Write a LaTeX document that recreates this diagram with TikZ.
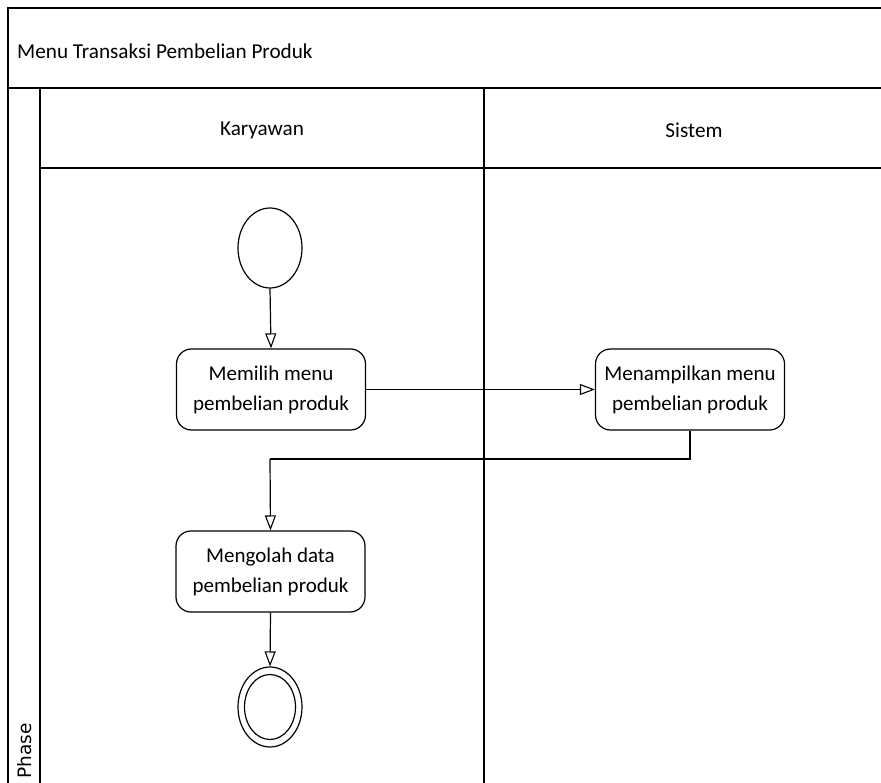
\documentclass[tikz,border=0pt]{standalone}
\usepackage{fontspec}
\setmainfont{Carlito}
\newfontfamily\phasefont{DejaVu Sans}
\usetikzlibrary{shapes.geometric,arrows.meta}

\begin{document}
\begin{tikzpicture}[x=1pt,y=-1pt,
  frame/.style={line width=1.5pt},
  lane/.style={line width=1.2pt},
  label/.style={font=\fontsize{21.2}{30}\selectfont, inner sep=0pt},
  action/.style={draw, line width=1.2pt, rounded corners=15pt,
    minimum width=189pt, minimum height=81pt, align=center,
    font=\fontsize{21}{30}\selectfont, inner sep=0pt},
  initial/.style={draw, line width=1.2pt, ellipse,
    minimum width=64pt, minimum height=80pt, inner sep=0pt},
  flow/.style={line width=1.2pt,
    -{Triangle[open, length=15pt, width=11pt, line width=1.1pt]}},
  line/.style={line width=1.2pt}]

\useasboundingbox (0,0) rectangle (881,783);
\fill[white] (0,0) rectangle (881,783);

% pool frame, title band and swimlanes
\draw[frame] (881,8) -- (8,8) -- (8,783);
\draw[frame] (8,88) -- (881,88);
\draw[lane] (40,88) -- (40,783);
\draw[lane] (40,168) -- (881,168);
\draw[lane] (484,88) -- (484,783);

\node[label, anchor=west] (title) at (17,51) {Menu Transaksi Pembelian Produk};
\node[label] (hk) at (262,130) {Karyawan};
\node[label] (hs) at (694,130) {Sistem};
\node[font=\phasefont\fontsize{18.5}{22}\selectfont, rotate=90,
      anchor=south west, inner sep=0pt] (phase) at (32,779) {Phase};

% activity nodes
\node[action] (a1) at (271,389.5) {Memilih menu\\pembelian produk};
\node[action] (a2) at (690,389.5) {Menampilkan menu\\pembelian produk};
\node[action] (a3) at (270.5,571.5) {Mengolah data\\pembelian produk};
\node[initial] (start) at (270,248) {};
\node[initial] (fin) at (270,707) {};
\node[draw, line width=1.2pt, ellipse, minimum width=51pt,
      minimum height=65pt, inner sep=0pt] (fini) at (fin.center) {};

\coordinate (bend) at (270,459);

% control flow
\draw[flow] (start.south) -- (a1.north);
\draw[flow] (a1.east) -- (a2.west);
\draw[line] (a2.south) |- (bend);
\draw[flow] (bend) -- (a3.north);
\draw[flow] (a3.south) -- (fin.north);
\end{tikzpicture}
\end{document}
